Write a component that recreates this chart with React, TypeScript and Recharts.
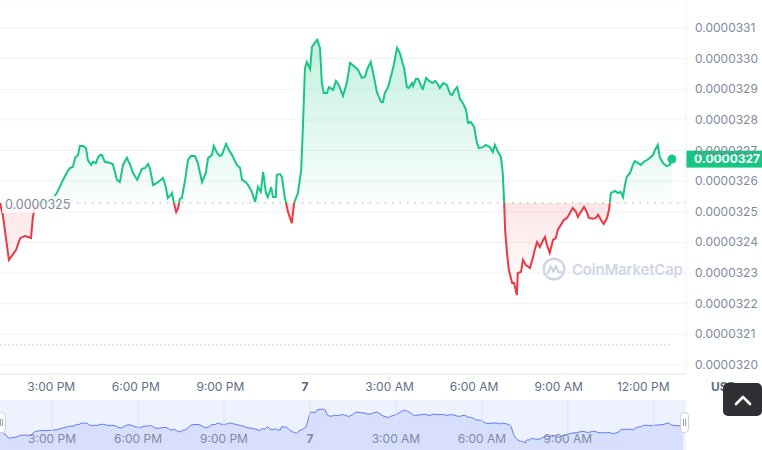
import React from 'react'
import { AreaChart, Area, XAxis, YAxis, CartesianGrid, ReferenceLine } from 'recharts'

// minutes since 00:00 on the 6th
const minutes = [
  791, 797, 810, 825, 834, 844, 851, 857, 861, 865,
  876, 887, 897, 906, 912, 925, 934, 940, 946, 951,
  957, 961, 968, 974, 978, 985, 989, 995, 1000, 1004,
  1008, 1014, 1025, 1031, 1040, 1046, 1053, 1061, 1068, 1074,
  1083, 1093, 1100, 1106, 1110, 1117, 1125, 1131, 1138, 1144,
  1148, 1155, 1157, 1161, 1166, 1170, 1174, 1178, 1185, 1191,
  1197, 1206, 1212, 1221, 1229, 1234, 1242, 1246, 1253, 1259,
  1263, 1272, 1278, 1285, 1295, 1302, 1306, 1314, 1319, 1327,
  1334, 1340, 1346, 1351, 1357, 1361, 1368, 1372, 1378, 1380,
  1387, 1391, 1397, 1404, 1412, 1417, 1425, 1432, 1436, 1440,
  1444, 1451, 1455, 1461, 1466, 1472, 1476, 1480, 1487, 1491,
  1500, 1506, 1512, 1521, 1529, 1536, 1546, 1553, 1561, 1568,
  1572, 1580, 1587, 1593, 1602, 1606, 1610, 1617, 1625, 1629,
  1636, 1642, 1649, 1651, 1657, 1661, 1668, 1670, 1676, 1681,
  1689, 1691, 1698, 1704, 1712, 1717, 1721, 1727, 1734, 1742,
  1749, 1753, 1759, 1764, 1770, 1776, 1783, 1787, 1793, 1800,
  1806, 1810, 1819, 1825, 1834, 1840, 1844, 1851, 1857, 1861,
  1864, 1866, 1870, 1874, 1881, 1885, 1891, 1893, 1900, 1904,
  1910, 1919, 1925, 1929, 1934, 1940, 1947, 1951, 1955, 1961,
  1968, 1974, 1978, 1987, 1991, 1998, 2004, 2010, 2017, 2021,
  2027, 2034, 2040, 2044, 2053, 2059, 2064, 2070, 2076, 2083,
  2087, 2089, 2091, 2100, 2106, 2112, 2117, 2121, 2125, 2132,
  2138, 2142, 2149, 2155, 2161, 2168, 2174, 2181, 2185, 2191,
  2195, 2202, 2210, 2217, 2221,
]

const prices = [
  3.2529e-5, 3.2490e-5, 3.2343e-5, 3.2375e-5, 3.2414e-5, 3.2421e-5, 3.2418e-5, 3.2414e-5, 3.2483e-5, 3.2512e-5,
  3.2530e-5, 3.2532e-5, 3.2539e-5, 3.2548e-5, 3.2561e-5, 3.2604e-5, 3.2630e-5, 3.2643e-5, 3.2646e-5, 3.2676e-5,
  3.2685e-5, 3.2715e-5, 3.2715e-5, 3.2708e-5, 3.2669e-5, 3.2653e-5, 3.2663e-5, 3.2659e-5, 3.2679e-5, 3.2685e-5,
  3.2685e-5, 3.2663e-5, 3.2659e-5, 3.2656e-5, 3.2604e-5, 3.2597e-5, 3.2653e-5, 3.2676e-5, 3.2653e-5, 3.2627e-5,
  3.2604e-5, 3.2640e-5, 3.2643e-5, 3.2656e-5, 3.2643e-5, 3.2587e-5, 3.2594e-5, 3.2601e-5, 3.2610e-5, 3.2581e-5,
  3.2545e-5, 3.2555e-5, 3.2561e-5, 3.2529e-5, 3.2499e-5, 3.2512e-5, 3.2542e-5, 3.2545e-5, 3.2604e-5, 3.2669e-5,
  3.2682e-5, 3.2682e-5, 3.2659e-5, 3.2597e-5, 3.2627e-5, 3.2676e-5, 3.2685e-5, 3.2715e-5, 3.2692e-5, 3.2682e-5,
  3.2685e-5, 3.2721e-5, 3.2702e-5, 3.2685e-5, 3.2653e-5, 3.2643e-5, 3.2604e-5, 3.2597e-5, 3.2587e-5, 3.2565e-5,
  3.2532e-5, 3.2581e-5, 3.2565e-5, 3.2630e-5, 3.2561e-5, 3.2548e-5, 3.2581e-5, 3.2548e-5, 3.2548e-5, 3.2620e-5,
  3.2623e-5, 3.2614e-5, 3.2548e-5, 3.2499e-5, 3.2463e-5, 3.2529e-5, 3.2561e-5, 3.2636e-5, 3.2790e-5, 3.2969e-5,
  3.2989e-5, 3.2966e-5, 3.3038e-5, 3.3051e-5, 3.3061e-5, 3.3035e-5, 3.2920e-5, 3.2888e-5, 3.2888e-5, 3.2907e-5,
  3.2898e-5, 3.2927e-5, 3.2914e-5, 3.2878e-5, 3.2920e-5, 3.2986e-5, 3.2973e-5, 3.2963e-5, 3.2937e-5, 3.2940e-5,
  3.2963e-5, 3.2989e-5, 3.2940e-5, 3.2891e-5, 3.2858e-5, 3.2858e-5, 3.2888e-5, 3.2907e-5, 3.2953e-5, 3.2979e-5,
  3.3035e-5, 3.3018e-5, 3.2979e-5, 3.2969e-5, 3.2907e-5, 3.2904e-5, 3.2920e-5, 3.2911e-5, 3.2933e-5, 3.2933e-5,
  3.2904e-5, 3.2901e-5, 3.2937e-5, 3.2927e-5, 3.2920e-5, 3.2927e-5, 3.2920e-5, 3.2904e-5, 3.2920e-5, 3.2914e-5,
  3.2884e-5, 3.2881e-5, 3.2898e-5, 3.2907e-5, 3.2868e-5, 3.2855e-5, 3.2832e-5, 3.2790e-5, 3.2793e-5, 3.2777e-5,
  3.2725e-5, 3.2708e-5, 3.2711e-5, 3.2718e-5, 3.2711e-5, 3.2695e-5, 3.2718e-5, 3.2695e-5, 3.2679e-5, 3.2627e-5,
  3.2529e-5, 3.2441e-5, 3.2366e-5, 3.2310e-5, 3.2268e-5, 3.2268e-5, 3.2228e-5, 3.2300e-5, 3.2304e-5, 3.2343e-5,
  3.2326e-5, 3.2317e-5, 3.2349e-5, 3.2375e-5, 3.2401e-5, 3.2385e-5, 3.2408e-5, 3.2418e-5, 3.2392e-5, 3.2366e-5,
  3.2408e-5, 3.2414e-5, 3.2441e-5, 3.2463e-5, 3.2473e-5, 3.2480e-5, 3.2496e-5, 3.2512e-5, 3.2499e-5, 3.2483e-5,
  3.2499e-5, 3.2516e-5, 3.2499e-5, 3.2480e-5, 3.2477e-5, 3.2480e-5, 3.2490e-5, 3.2473e-5, 3.2460e-5, 3.2480e-5,
  3.2506e-5, 3.2529e-5, 3.2561e-5, 3.2568e-5, 3.2561e-5, 3.2565e-5, 3.2548e-5, 3.2587e-5, 3.2614e-5, 3.2627e-5,
  3.2653e-5, 3.2666e-5, 3.2659e-5, 3.2653e-5, 3.2663e-5, 3.2669e-5, 3.2676e-5, 3.2685e-5, 3.2702e-5, 3.2718e-5,
  3.2679e-5, 3.2659e-5, 3.2649e-5, 3.2653e-5, 3.2672e-5,
]

const priceTicks = [
  3.20e-5, 3.21e-5, 3.22e-5, 3.23e-5, 3.24e-5, 3.25e-5,
  3.26e-5, 3.27e-5, 3.28e-5, 3.29e-5, 3.30e-5, 3.31e-5,
]
const timeTicks = [900, 1080, 1260, 1440, 1620, 1800, 1980, 2160]
const timeLabels = ['3:00 PM', '6:00 PM', '9:00 PM', '7', '3:00 AM', '6:00 AM', '9:00 AM', '12:00 PM']
// the navigator drops the last label, it would run past the right edge
const navLabels = ['3:00 PM', '6:00 PM', '9:00 PM', '7', '3:00 AM', '6:00 AM', '9:00 AM', '']
const lowGuide = 3.2065e-5

const GREEN = '#16c784'
const RED = '#ea3943'
const FONT = 'Inter, "Noto Sans", sans-serif'

const data = minutes.map((t, i) => ({ t, price: prices[i] }))
const openPrice = prices[0]
const lastPrice = prices[prices.length - 1]
const hi = Math.max(...prices)
const lo = Math.min(...prices)
const split = (hi - openPrice) / (hi - lo)

function TimeTick({ x, y, payload }: any) {
  const label = timeLabels[timeTicks.indexOf(payload.value)]
  const bold = label === '7'
  return (
    <text x={x} y={y} dy={10} textAnchor="middle" fontSize={12} fontFamily={FONT}
      fontWeight={bold ? 700 : 400} fill={bold ? '#58667e' : '#616e85'}>
      {label}
    </text>
  )
}

function PriceTick({ x, y, payload }: any) {
  return (
    <text x={x} y={y} dy={4} textAnchor="start" fontSize={12} fontFamily={FONT} fill="#808a9d">
      {payload.value.toFixed(7)}
    </text>
  )
}

function OpenLabel({ viewBox }: any) {
  const { x, y } = viewBox
  return (
    <g>
      <rect x={x + 2} y={y - 7} width={64} height={17} fill="#fff" fillOpacity={0.8} />
      <text x={x + 5} y={y + 2} dy={4} fontSize={12.5} fontFamily={FONT} fill="#808a9d">
        {openPrice.toFixed(7)}
      </text>
    </g>
  )
}

function LastTag({ viewBox }: any) {
  const { x, y, width } = viewBox
  return (
    <g>
      <rect x={x + width} y={y - 8.5} width={76} height={17} fill={GREEN} />
      <text x={x + width + 8} y={y} dy={4.3} fontSize={12} fontWeight={700} fontFamily={FONT} fill="#fff">
        {lastPrice.toFixed(7)}
      </text>
    </g>
  )
}

function lastDot(props: any) {
  if (props.index !== data.length - 1) return <g key={props.index} />
  return <circle key={props.index} cx={props.cx} cy={props.cy} r={4.5} fill={GREEN} />
}

function Handle({ left }: { left: number }) {
  return (
    <div style={{
      position: 'absolute', left, top: 412, width: 7, height: 19, background: '#fff',
      border: '1px solid #cfd3dc', borderRadius: 4, display: 'flex', justifyContent: 'center',
      alignItems: 'center', gap: 1,
    }}>
      <div style={{ width: 1, height: 7, background: '#9aa1b3' }} />
      <div style={{ width: 1, height: 7, background: '#9aa1b3' }} />
    </div>
  )
}

export default function App() {
  return (
    <div style={{ position: 'relative', width: 762, height: 450, overflow: 'hidden', background: '#fff', fontFamily: FONT }}>
      <style>{'body{margin:0}'}</style>

      <AreaChart width={762} height={400} data={data} margin={{ top: 0, right: 0, bottom: 0, left: 0 }}>
        <defs>
          <linearGradient id="strokeSplit" x1="0" y1="0" x2="0" y2="1">
            <stop offset={split} stopColor={GREEN} />
            <stop offset={split} stopColor={RED} />
          </linearGradient>
          <linearGradient id="fillSplit" x1="0" y1="0" x2="0" y2="1">
            <stop offset={0} stopColor={GREEN} stopOpacity={0.26} />
            <stop offset={split} stopColor={GREEN} stopOpacity={0.02} />
            <stop offset={split} stopColor={RED} stopOpacity={0.13} />
            <stop offset={1} stopColor={RED} stopOpacity={0.0} />
          </linearGradient>
        </defs>
        <CartesianGrid vertical={false} stroke="#eff2f5" />
        <XAxis
          dataKey="t"
          type="number"
          domain={[minutes[0], minutes[minutes.length - 1] + 30]}
          ticks={timeTicks}
          interval={0}
          tick={<TimeTick />}
          tickSize={5}
          tickMargin={2}
          height={26}
          axisLine={{ stroke: '#e6e9ef' }}
          tickLine={{ stroke: '#e6e9ef' }}
        />
        <YAxis
          orientation="right"
          domain={[3.19706e-5, 3.31912e-5]}
          ticks={priceTicks}
          interval={0}
          width={76}
          tickSize={0}
          tickMargin={9}
          tick={<PriceTick />}
          axisLine={{ stroke: '#eff2f5' }}
          tickLine={false}
        />
        <ReferenceLine
          segment={[{ x: minutes[0], y: lowGuide }, { x: minutes[minutes.length - 1], y: lowGuide }]}
          stroke="#c3c9de"
          strokeDasharray="2 2"
        />
        <Area
          type="linear"
          dataKey="price"
          baseValue={openPrice}
          stroke="url(#strokeSplit)"
          strokeWidth={2}
          fill="url(#fillSplit)"
          fillOpacity={1}
          dot={lastDot}
          activeDot={false}
          isAnimationActive={false}
        />
        <ReferenceLine y={openPrice} stroke="#a3aabb" strokeDasharray="1.5 6" label={<OpenLabel />} />
        <ReferenceLine y={lastPrice} stroke="none" label={<LastTag />} />
      </AreaChart>

      <div style={{ position: 'absolute', left: 0, top: 400, width: 686, height: 50, background: '#eef1fe' }}>
        <AreaChart width={686} height={50} data={data} margin={{ top: 0, right: 3, bottom: 0, left: 0 }}>
          <XAxis dataKey="t" type="number" domain={['dataMin', 'dataMax']} hide />
          <YAxis domain={[3.2056e-5, 3.3282e-5]} hide />
          <Area
            type="linear"
            dataKey="price"
            stroke="#5a7bf9"
            strokeWidth={1}
            fill="#cfd8fc"
            fillOpacity={0.75}
            isAnimationActive={false}
          />
          {timeTicks.map((t, i) => (
            <ReferenceLine
              key={t}
              x={t}
              stroke="#dde2f6"
              label={{
                value: navLabels[i],
                position: 'insideBottom',
                offset: 7,
                fill: '#808a9d',
                fontSize: 12,
                fontFamily: FONT,
                fontWeight: navLabels[i] === '7' ? 700 : 400,
              }}
            />
          ))}
        </AreaChart>
      </div>
      <Handle left={-3} />
      <Handle left={680} />

      <div style={{ position: 'absolute', left: 542, top: 257, display: 'flex', alignItems: 'center', gap: 6, pointerEvents: 'none' }}>
        <svg width={24} height={24} viewBox="0 0 24 24">
          <circle cx={12} cy={12} r={10.3} fill="none" stroke="#cfd6e4" strokeWidth={2.4} />
          <path d="M6 16 L9 9 L11.5 14.5 L14 9 L16.3 14.2 Q17.3 16 19 15.2" fill="none" stroke="#cfd6e4"
            strokeWidth={2.2} strokeLinejoin="round" strokeLinecap="round" />
        </svg>
        <span style={{ fontSize: 15, fontWeight: 600, color: '#cfd6e4', letterSpacing: -0.2 }}>CoinMarketCap</span>
      </div>

      <div style={{ position: 'absolute', left: 711, top: 379, fontSize: 12, fontWeight: 700, color: '#616e85' }}>USD</div>
      <div style={{
        position: 'absolute', left: 723, top: 383, width: 39, height: 33, borderRadius: 5,
        background: '#2f3034', display: 'flex', alignItems: 'center', justifyContent: 'center',
      }}>
        <svg width={18} height={12} viewBox="0 0 18 12">
          <polyline points="2,10 9,3 16,10" fill="none" stroke="#fff" strokeWidth={2.6} strokeLinecap="round" strokeLinejoin="round" />
        </svg>
      </div>
    </div>
  )
}
